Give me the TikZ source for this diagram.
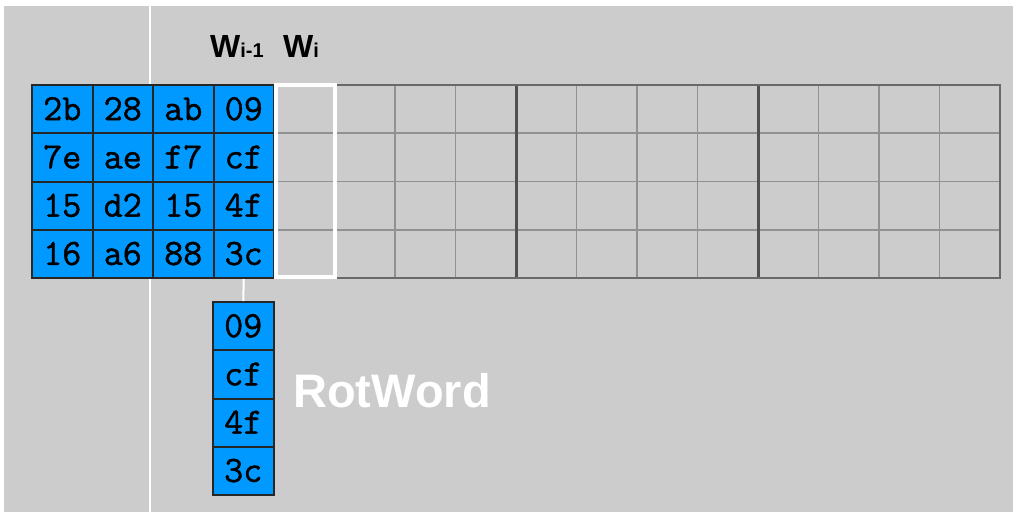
\documentclass[tikz,border=0pt]{standalone}
\usepackage{fontspec}
\newfontfamily\labelfont{Liberation Sans}
\newfontfamily\hexfont{Latin Modern Mono}[FakeBold=1.2]
\definecolor{panelgray}{RGB}{204,204,204}
\definecolor{cellblue}{RGB}{0,153,255}
\definecolor{gridline}{RGB}{145,145,145}
\definecolor{gridthick}{RGB}{80,80,80}
\definecolor{gridframe}{RGB}{105,105,105}

\tikzset{
  hexcell/.style={draw=black!85, line width=2pt, fill=cellblue, inner sep=0pt,
    minimum width=60.5pt, minimum height=48.25pt,
    font=\hexfont\bfseries\fontsize{37}{37}\selectfont, text height=22pt, text depth=0pt},
  thinrule/.style={draw=gridline, line width=1.7pt},
  thickrule/.style={draw=gridthick, line width=3pt},
  wordlabel/.style={anchor=base west, inner sep=0pt, font=\labelfont\bfseries\fontsize{32}{32}\selectfont},
}

\begin{document}
\begin{tikzpicture}[x=1pt, y=-1pt]
\useasboundingbox (0,0) rectangle (1013,512);
\fill[white] (0,0) rectangle (1013,512);
\fill[panelgray] (4,6) rectangle (1013,512);

% thin white guide line
\draw[white, line width=2pt] (150,6) -- (150,512);

% empty key schedule grid (columns 4..15)
\foreach \k in {5,6,7,9,10,11,13,14,15}
  \draw[thinrule] (32+60.5*\k,85) -- (32+60.5*\k,278);
\foreach \r in {1,2,3}
  \draw[thinrule] (274,85+48.25*\r) -- (1000,85+48.25*\r);
\foreach \k in {8,12}
  \draw[thickrule] (32+60.5*\k,85) -- (32+60.5*\k,278);
\draw[draw=gridframe, line width=2.4pt] (274,85) rectangle (1000,278);

% cipher key bytes, filled columns 0..3
\foreach \r/\c/\v in {0/0/2b,0/1/28,0/2/ab,0/3/09,
                      1/0/7e,1/1/ae,1/2/f7,1/3/cf,
                      2/0/15,2/1/d2,2/2/15,2/3/4f,
                      3/0/16,3/1/a6,3/2/88,3/3/3c}
  \node[hexcell] (m-\r-\c) at (62.25+60.5*\c, 109.125+48.25*\r) {\v};

% rotated word
\foreach \i/\v in {0/09,1/cf,2/4f,3/3c}
  \node[hexcell] (rw-\i) at (243.25, 326.125+48.25*\i) {\v};

\draw[white, line width=2pt] (m-3-3.south) -- (rw-0.north);

% highlighted word W_i
\node[draw=white, line width=4pt, inner sep=0pt, minimum width=59.5pt, minimum height=192pt]
  (wi) at (305.25,181) {};

% column labels
\node[wordlabel] (lblprev) at (210,57) {W{\labelfont\bfseries\fontsize{20}{20}\selectfont i-1}};
\node[wordlabel] (lblcur) at (283,57) {W{\labelfont\bfseries\fontsize{20}{20}\selectfont i}};

% operation name
\node[anchor=base west, inner sep=0pt, text=white, font=\labelfont\bfseries\fontsize{47}{47}\selectfont]
  (op) at (293,407) {RotWord};
\end{tikzpicture}
\end{document}
